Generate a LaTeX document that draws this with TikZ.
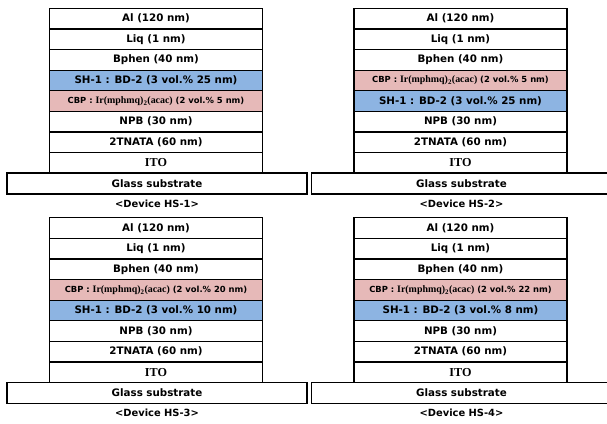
\documentclass[tikz,border=0pt]{standalone}
\usepackage{fontspec}
\setmainfont{DejaVu Sans}
\newfontfamily\serifpart[Scale=1.18]{Liberation Serif}
\usetikzlibrary{positioning}
\definecolor{hostblue}{HTML}{8DB4E2}
\definecolor{dopantpink}{HTML}{E6B9B8}

\begin{document}
\begin{tikzpicture}[
  x=1pt,y=-1pt,
  font=\bfseries\fontsize{10.3}{12}\selectfont,
  layer/.style={draw=black,line width=1.2pt,fill=white,outer sep=0pt,
               inner sep=0pt,minimum width=213pt,minimum height=20.6pt},
  hostlayer/.style={layer,fill=hostblue},
  dopelayer/.style={layer,fill=dopantpink,
               font=\bfseries\fontsize{8.4}{10}\selectfont},
  glassbox/.style={layer,line width=1.4pt,minimum width=300pt,
               minimum height=21pt,xshift=1pt},
  devlabel/.style={font=\bfseries\fontsize{9.9}{11}\selectfont,inner sep=1pt}
]
\useasboundingbox (0,0) rectangle (607,423);

% Device HS-1
\node[layer] (al1) at (156,18.6) {Al (120 nm)};
\node[layer,below=0pt of al1] (liq1) {Liq (1 nm)};
\node[layer,below=0pt of liq1] (bphen1) {Bphen (40 nm)};
\node[hostlayer,below=0pt of bphen1] (sh1) {SH-1 : BD-2 (3 vol.\% 25 nm)};
\node[dopelayer,below=0pt of sh1] (cbp1)
  {CBP : {\serifpart Ir(mphmq)\textsubscript{2}(acac)} (2 vol.\% 5 nm)};
\node[layer,below=0pt of cbp1] (npb1) {NPB (30 nm)};
\node[layer,below=0pt of npb1] (tnata1) {2TNATA (60 nm)};
\node[layer,below=0pt of tnata1] (ito1) {\serifpart ITO};
\node[glassbox,below=0pt of ito1] (glass1) {Glass substrate};
\node[devlabel,below=4.5pt of glass1] (cap1) {<Device HS-1>};

% Device HS-2
\node[layer] (al2) at (460.5,18.6) {Al (120 nm)};
\node[layer,below=0pt of al2] (liq2) {Liq (1 nm)};
\node[layer,below=0pt of liq2] (bphen2) {Bphen (40 nm)};
\node[dopelayer,below=0pt of bphen2] (cbp2)
  {CBP : {\serifpart Ir(mphmq)\textsubscript{2}(acac)} (2 vol.\% 5 nm)};
\node[hostlayer,below=0pt of cbp2] (sh2) {SH-1 : BD-2 (3 vol.\% 25 nm)};
\node[layer,below=0pt of sh2] (npb2) {NPB (30 nm)};
\node[layer,below=0pt of npb2] (tnata2) {2TNATA (60 nm)};
\node[layer,below=0pt of tnata2] (ito2) {\serifpart ITO};
\node[glassbox,below=0pt of ito2] (glass2) {Glass substrate};
\node[devlabel,below=4.5pt of glass2] (cap2) {<Device HS-2>};

% Device HS-3
\node[layer] (al3) at (156,228) {Al (120 nm)};
\node[layer,below=0pt of al3] (liq3) {Liq (1 nm)};
\node[layer,below=0pt of liq3] (bphen3) {Bphen (40 nm)};
\node[dopelayer,below=0pt of bphen3] (cbp3)
  {CBP : {\serifpart Ir(mphmq)\textsubscript{2}(acac)} (2 vol.\% 20 nm)};
\node[hostlayer,below=0pt of cbp3] (sh3) {SH-1 : BD-2 (3 vol.\% 10 nm)};
\node[layer,below=0pt of sh3] (npb3) {NPB (30 nm)};
\node[layer,below=0pt of npb3] (tnata3) {2TNATA (60 nm)};
\node[layer,below=0pt of tnata3] (ito3) {\serifpart ITO};
\node[glassbox,below=0pt of ito3] (glass3) {Glass substrate};
\node[devlabel,below=4.5pt of glass3] (cap3) {<Device HS-3>};

% Device HS-4
\node[layer] (al4) at (460.5,228) {Al (120 nm)};
\node[layer,below=0pt of al4] (liq4) {Liq (1 nm)};
\node[layer,below=0pt of liq4] (bphen4) {Bphen (40 nm)};
\node[dopelayer,below=0pt of bphen4] (cbp4)
  {CBP : {\serifpart Ir(mphmq)\textsubscript{2}(acac)} (2 vol.\% 22 nm)};
\node[hostlayer,below=0pt of cbp4] (sh4) {SH-1 : BD-2 (3 vol.\% 8 nm)};
\node[layer,below=0pt of sh4] (npb4) {NPB (30 nm)};
\node[layer,below=0pt of npb4] (tnata4) {2TNATA (60 nm)};
\node[layer,below=0pt of tnata4] (ito4) {\serifpart ITO};
\node[glassbox,below=0pt of ito4] (glass4) {Glass substrate};
\node[devlabel,below=4.5pt of glass4] (cap4) {<Device HS-4>};
\end{tikzpicture}
\end{document}
